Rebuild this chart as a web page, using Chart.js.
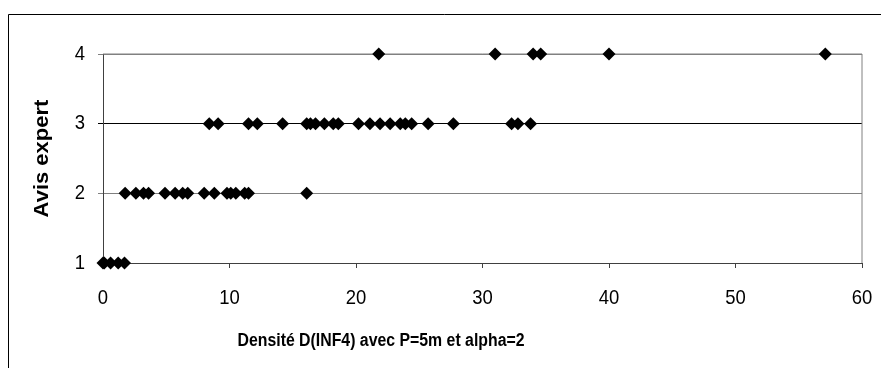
<!DOCTYPE html>
<html>
<head>
<meta charset="utf-8">
<script src="https://cdn.jsdelivr.net/npm/chart.js@4"></script>
<style>
  html, body { margin: 0; padding: 0; background: #fff; }
  #wrap { width: 881px; height: 368px; position: relative; }
</style>
</head>
<body>
<div id="wrap"><canvas id="chart" width="881" height="368"></canvas></div>
<script>
// Valeurs (densité -> avis expert)
const avis1 = [0, 0.1, 0.6, 1.2, 1.7];
const avis2 = [1.75, 2.6, 3.2, 3.6, 4.9, 5.7, 6.3, 6.7, 8.0, 8.8, 9.8, 10.1, 10.5, 11.2, 11.5, 16.1];
const avis3 = [8.4, 9.1, 11.5, 12.2, 14.2, 16.1, 16.4, 16.8, 17.5, 18.2, 18.6, 20.2, 21.1, 21.9,
               22.7, 23.5, 23.9, 24.4, 25.7, 27.7, 32.3, 32.8, 33.8];
const avis4 = [21.8, 31.0, 34.0, 34.6, 40.0, 57.1];
const xTicks = [0, 10, 20, 30, 40, 50, 60];
const yTicks = [1, 2, 3, 4];
const xTitle = 'Densité D(INF4) avec P=5m et alpha=2';
const yTitle = 'Avis expert';

const points = [
    ...avis1.map(x => ({ x, y: 1 })),
    ...avis2.map(x => ({ x, y: 2 })),
    ...avis3.map(x => ({ x, y: 3 })),
    ...avis4.map(x => ({ x, y: 4 }))
];

const FONT = "'Liberation Sans', Arial, sans-serif";
const SQUEEZE = 0.88; // le texte de l'original est un peu étroit

// texte compressé horizontalement
function narrowText(ctx, text, x, y, align) {
    ctx.save();
    ctx.translate(x, y);
    ctx.scale(SQUEEZE, 1);
    ctx.textAlign = align;
    ctx.fillText(text, 0, 0);
    ctx.restore();
}

// Cadre extérieur, bordure de la zone de tracé, étiquettes et titres
const decor = {
    id: 'decor',
    beforeDraw(chart) {
        const ctx = chart.ctx;
        ctx.save();
        ctx.strokeStyle = '#000';
        ctx.lineWidth = 1;
        ctx.beginPath();
        ctx.moveTo(8.5, 368);
        ctx.lineTo(8.5, 14.5);
        ctx.lineTo(881, 14.5);
        ctx.stroke();
        ctx.restore();
    },
    beforeDatasetsDraw(chart) {
        const { ctx, chartArea: a } = chart;
        ctx.save();
        ctx.strokeStyle = '#808080';
        ctx.lineWidth = 1;
        ctx.beginPath();
        ctx.moveTo(a.left, a.top);
        ctx.lineTo(a.right, a.top);
        ctx.lineTo(a.right, a.bottom);
        ctx.stroke();
        ctx.restore();
    },
    afterDraw(chart) {
        const { ctx, chartArea: a, scales } = chart;
        ctx.save();
        ctx.fillStyle = '#000';
        ctx.textBaseline = 'middle';

        ctx.font = '21px ' + FONT;
        xTicks.forEach(v => narrowText(ctx, String(v), scales.x.getPixelForValue(v), 298, 'center'));
        yTicks.forEach(v => narrowText(ctx, String(v), 85, scales.y.getPixelForValue(v), 'right'));

        ctx.font = 'bold 18px ' + FONT;
        narrowText(ctx, xTitle, 381, 341, 'center');

        ctx.font = 'bold 22px ' + FONT;
        ctx.translate(43, (a.top + a.bottom) / 2);
        ctx.rotate(-Math.PI / 2);
        ctx.scale(1, SQUEEZE);
        ctx.textAlign = 'center';
        ctx.fillText(yTitle, 0, 0);
        ctx.restore();
    }
};

new Chart(document.getElementById('chart'), {
    type: 'scatter',
    data: {
        datasets: [{
            data: points,
            pointStyle: 'rectRot',
            pointRadius: 6.5,
            pointHoverRadius: 6.5,
            backgroundColor: '#000',
            borderColor: '#000',
            borderWidth: 0,
            clip: false
        }]
    },
    options: {
        responsive: false,
        animation: false,
        layout: { padding: { left: 0, top: 54, right: 19, bottom: 0 } },
        plugins: { legend: { display: false }, tooltip: { enabled: false } },
        scales: {
            x: {
                type: 'linear',
                min: 0, max: 60,
                afterBuildTicks: s => { s.ticks = xTicks.map(v => ({ value: v })); },
                afterFit: s => { s.height = 105; s.paddingLeft = 0; s.paddingRight = 0; },
                grid: { drawOnChartArea: false, drawTicks: true, tickLength: 5, color: '#404040' },
                border: { color: '#404040', width: 1 },
                ticks: { display: false }
            },
            y: {
                type: 'linear',
                min: 1, max: 4,
                afterBuildTicks: s => { s.ticks = yTicks.map(v => ({ value: v })); },
                afterFit: s => { s.width = 103; s.paddingTop = 0; s.paddingBottom = 0; },
                grid: {
                    tickLength: 5,
                    color: c => c.tick && c.tick.value === 3 ? '#000' : '#808080'
                },
                border: { color: '#404040', width: 1 },
                ticks: { display: false }
            }
        }
    },
    plugins: [decor]
});
</script>
</body>
</html>
